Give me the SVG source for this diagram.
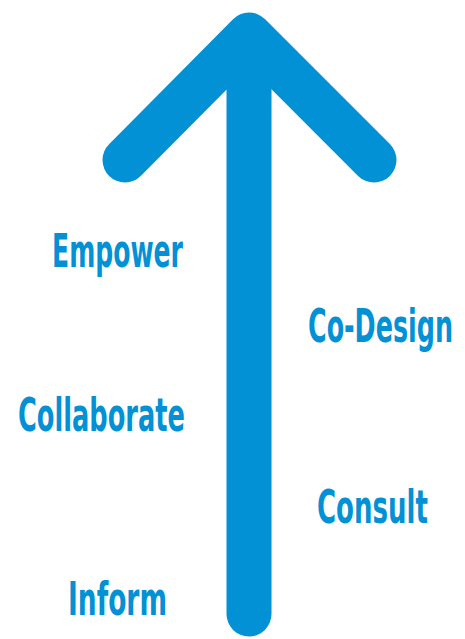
<svg xmlns="http://www.w3.org/2000/svg" width="465" height="639" viewBox="0 0 465 639">
  <style>
    .arrow { fill: none; stroke: #0391D5; stroke-width: 45; stroke-linecap: round; stroke-linejoin: round; }
    .label { font-family: "DejaVu Sans Condensed", "Liberation Sans Narrow", "Liberation Sans", sans-serif; font-weight: bold; font-size: 28px; fill: #0391D5; }
  </style>
  <rect width="465" height="639" fill="#ffffff"/>
  <g id="connectors">
    <!-- shaft -->
    <path class="arrow" d="M249 40 V614"/>
    <!-- head -->
    <path class="arrow" d="M125 160 L249 35 L374 160"/>
  </g>
  <!-- labels: small condensed type stretched upright for a tall, narrow look -->
  <g id="empower"><text class="label" transform="translate(52,267) scale(1,1.65)" textLength="131" lengthAdjust="spacingAndGlyphs">Empower</text></g>
  <g id="co-design"><text class="label" transform="translate(308,342) scale(1,1.65)" textLength="145" lengthAdjust="spacingAndGlyphs">Co-Design</text></g>
  <g id="collaborate"><text class="label" transform="translate(18,431) scale(1,1.65)" textLength="167" lengthAdjust="spacingAndGlyphs">Collaborate</text></g>
  <g id="consult"><text class="label" transform="translate(317,523) scale(1,1.65)" textLength="111" lengthAdjust="spacingAndGlyphs">Consult</text></g>
  <g id="inform"><text class="label" transform="translate(68,615) scale(1,1.65)" textLength="99" lengthAdjust="spacingAndGlyphs">Inform</text></g>
</svg>
